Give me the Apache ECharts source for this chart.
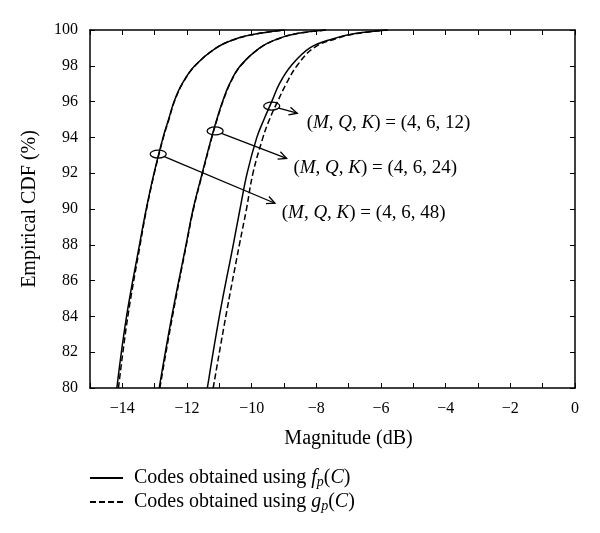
<!DOCTYPE html>
<html>
<head>
<meta charset="utf-8">
<script src="https://cdn.jsdelivr.net/npm/echarts@6/dist/echarts.min.js"></script>
<style>html,body{margin:0;padding:0;background:#fff}#chart{width:600px;height:533px}</style>
</head>
<body>
<div id="chart"></div>
<script>
// CDF levels (%) at which magnitudes (dB) were read
const cdfLevels = [80, 84, 88, 90, 92, 94, 95, 96, 97, 98, 99, 99.5, 99.8, 100];
// K = 48
const k48Fp = [-14.17, -13.87, -13.47, -13.26, -13.02, -12.74, -12.57, -12.40, -12.15, -11.76, -11.10, -10.50, -9.80, -9.00];
const k48Gp = [-14.12, -13.83, -13.45, -13.25, -13.01, -12.73, -12.56, -12.39, -12.14, -11.75, -11.09, -10.49, -9.79, -8.98];
// K = 24
const k24Fp = [-12.86, -12.47, -12.03, -11.81, -11.53, -11.24, -11.08, -10.90, -10.68, -10.35, -9.75, -9.20, -8.60, -7.70];
const k24Gp = [-12.84, -12.45, -12.02, -11.80, -11.52, -11.23, -11.07, -10.89, -10.67, -10.34, -9.74, -9.19, -8.59, -7.68];
// K = 12
const k12Fp = [-11.37, -11.00, -10.57, -10.36, -10.14, -9.84, -9.62, -9.38, -9.14, -8.78, -8.20, -7.50, -6.80, -5.80];
const k12Gp = [-11.19, -10.80, -10.38, -10.16, -9.96, -9.65, -9.45, -9.20, -8.93, -8.60, -8.08, -7.42, -6.75, -5.80];

const xTicks = [-14, -12, -10, -8, -6, -4, -2, 0];
const yTicks = [80, 82, 84, 86, 88, 90, 92, 94, 96, 98, 100];

// annotation anchors (data units): marker ellipse, arrow tip, label start
const annotK = ['12', '24', '48'];
const annotMarker = [[-9.38, 95.75], [-11.13, 94.36], [-12.89, 93.07]];
const annotArrowEnd = [[-8.59, 95.35], [-8.92, 92.83], [-9.28, 90.32]];
const annotLabelAt = [[-8.30, 94.79], [-8.71, 92.27], [-9.07, 89.76]];

const FONT = '"Liberation Serif", "DejaVu Serif", serif';
const TXT = 19;
const TTL = 20;
const pairs = xs => cdfLevels.map((y, i) => [xs[i], y]);
const minus = v => (v < 0 ? '\u2212' : '') + Math.abs(v);

function curve(name, xs, dashed) {
  return {
    type: 'line', name: name, data: pairs(xs), xAxisIndex: 0, yAxisIndex: 0,
    symbol: 'none', smooth: 0.4, silent: true,
    lineStyle: { color: '#000', width: 1.5, type: dashed ? [6, 3] : 'solid' },
    itemStyle: { color: '#000' }, z: 3
  };
}

const chart = echarts.init(document.getElementById('chart'), null, { renderer: 'canvas' });

const annotData = annotK.map((k, i) => [annotMarker[i][0], annotMarker[i][1], annotArrowEnd[i][0], annotArrowEnd[i][1], annotLabelAt[i][0], annotLabelAt[i][1], i]);

const rich = {
  p: { fontFamily: FONT, fontSize: TXT, color: '#000' },
  i: { fontFamily: FONT, fontSize: TXT, fontStyle: 'italic', color: '#000' }
};

const option = {
  backgroundColor: '#fff',
  animation: false,
  grid: { left: 90, right: 25, top: 30, bottom: 145 },
  xAxis: [{
    type: 'value', min: -15, max: 0, interval: 1, position: 'bottom',
    name: 'Magnitude (dB)', nameLocation: 'middle', nameGap: 41,
    nameTextStyle: { fontFamily: FONT, fontSize: TTL, color: '#000', padding: [0, 0, 0, 32] },
    axisLine: { show: true, onZero: false, lineStyle: { color: '#000', width: 1.5 } },
    axisTick: { show: true, inside: true, length: 5, lineStyle: { color: '#000', width: 1 } },
    axisLabel: { margin: 13, fontFamily: FONT, fontSize: 16, color: '#000',
      formatter: v => xTicks.indexOf(v) >= 0 ? minus(v) : '' },
    splitLine: { show: false }
  }, {
    type: 'value', min: -15, max: 0, interval: 1, position: 'top',
    axisLine: { show: true, onZero: false, lineStyle: { color: '#000', width: 1.5 } },
    axisTick: { show: true, inside: true, length: 5, lineStyle: { color: '#000', width: 1 } },
    axisLabel: { show: false }, splitLine: { show: false }
  }],
  yAxis: [{
    type: 'value', min: 80, max: 100, interval: 2, position: 'left',
    name: 'Empirical CDF (%)', nameLocation: 'middle', nameGap: 50, nameRotate: 90,
    nameTextStyle: { fontFamily: FONT, fontSize: TTL, color: '#000' },
    axisLine: { show: true, onZero: false, lineStyle: { color: '#000', width: 1.5 } },
    axisTick: { show: true, inside: true, length: 5, lineStyle: { color: '#000', width: 1 } },
    axisLabel: { margin: 12, fontFamily: FONT, fontSize: 16, color: '#000',
      formatter: v => yTicks.indexOf(v) >= 0 ? String(v) : '' },
    splitLine: { show: false }
  }, {
    type: 'value', min: 80, max: 100, interval: 2, position: 'right',
    axisLine: { show: true, onZero: false, lineStyle: { color: '#000', width: 1.5 } },
    axisTick: { show: true, inside: true, length: 5, lineStyle: { color: '#000', width: 1 } },
    axisLabel: { show: false }, splitLine: { show: false }
  }],
  legend: {
    data: ['fp', 'gp'], orient: 'vertical', left: 84, top: 461,
    itemWidth: 33, itemHeight: 14, itemGap: 0, selectedMode: false,
    itemStyle: { opacity: 0 },
    textStyle: { fontFamily: FONT, fontSize: TTL, color: '#000', lineHeight: 24, padding: [0, 0, 0, 6],
      rich: {
        t: { fontFamily: FONT, fontSize: TTL, color: '#000' },
        i: { fontFamily: FONT, fontSize: TTL, fontStyle: 'italic', color: '#000' },
        s: { fontFamily: FONT, fontSize: 14, fontStyle: 'italic', color: '#000', padding: [8, 0, 0, 0] }
      } },
    formatter: n => n === 'fp'
      ? '{t|Codes obtained using }{i|f}{s|p}{t|(}{i|C}{t|)}'
      : '{t|Codes obtained using }{i|g}{s|p}{t|(}{i|C}{t|)}'
  },
  series: [
    curve('fp', k48Fp, false), curve('gp', k48Gp, true),
    curve('fp', k24Fp, false), curve('gp', k24Gp, true),
    curve('fp', k12Fp, false), curve('gp', k12Gp, true),
    {
      type: 'custom', name: 'annot', coordinateSystem: 'cartesian2d', clip: false, silent: true, z: 5,
      data: annotData,
      encode: { x: 0, y: 1 },
      renderItem: function (params, api) {
        const c = api.coord([api.value(0), api.value(1)]);
        const e = api.coord([api.value(2), api.value(3)]);
        const l = api.coord([api.value(4), api.value(5)]);
        const k = annotK[api.value(6)];
        const rx = 8, ry = 4;
        let dx = e[0] - c[0], dy = e[1] - c[1];
        const len = Math.hypot(dx, dy); dx /= len; dy /= len;
        const t = 1 / Math.sqrt((dx / rx) * (dx / rx) + (dy / ry) * (dy / ry));
        const s = [c[0] + dx * t, c[1] + dy * t];
        const ah = 9, ang = Math.PI / 7;
        const a1 = [e[0] - ah * (dx * Math.cos(ang) - dy * Math.sin(ang)), e[1] - ah * (dy * Math.cos(ang) + dx * Math.sin(ang))];
        const a2 = [e[0] - ah * (dx * Math.cos(-ang) - dy * Math.sin(-ang)), e[1] - ah * (dy * Math.cos(-ang) + dx * Math.sin(-ang))];
        return {
          type: 'group',
          children: [
            { type: 'ellipse', shape: { cx: c[0], cy: c[1], rx: rx, ry: ry }, style: { fill: 'none', stroke: '#000', lineWidth: 1.3 } },
            { type: 'line', shape: { x1: s[0], y1: s[1], x2: e[0], y2: e[1] }, style: { stroke: '#000', lineWidth: 1.3 } },
            { type: 'polyline', shape: { points: [a1, e, a2] }, style: { fill: 'none', stroke: '#000', lineWidth: 1.3 } },
            { type: 'text', x: l[0], y: l[1], style: {
                text: '{p|(}{i|M}{p|, }{i|Q}{p|, }{i|K}{p|) = (4, 6, ' + k + ')}',
                rich: rich, align: 'left', verticalAlign: 'middle' } }
          ]
        };
      }
    }
  ]
};
chart.setOption(option);
</script>
</body>
</html>
